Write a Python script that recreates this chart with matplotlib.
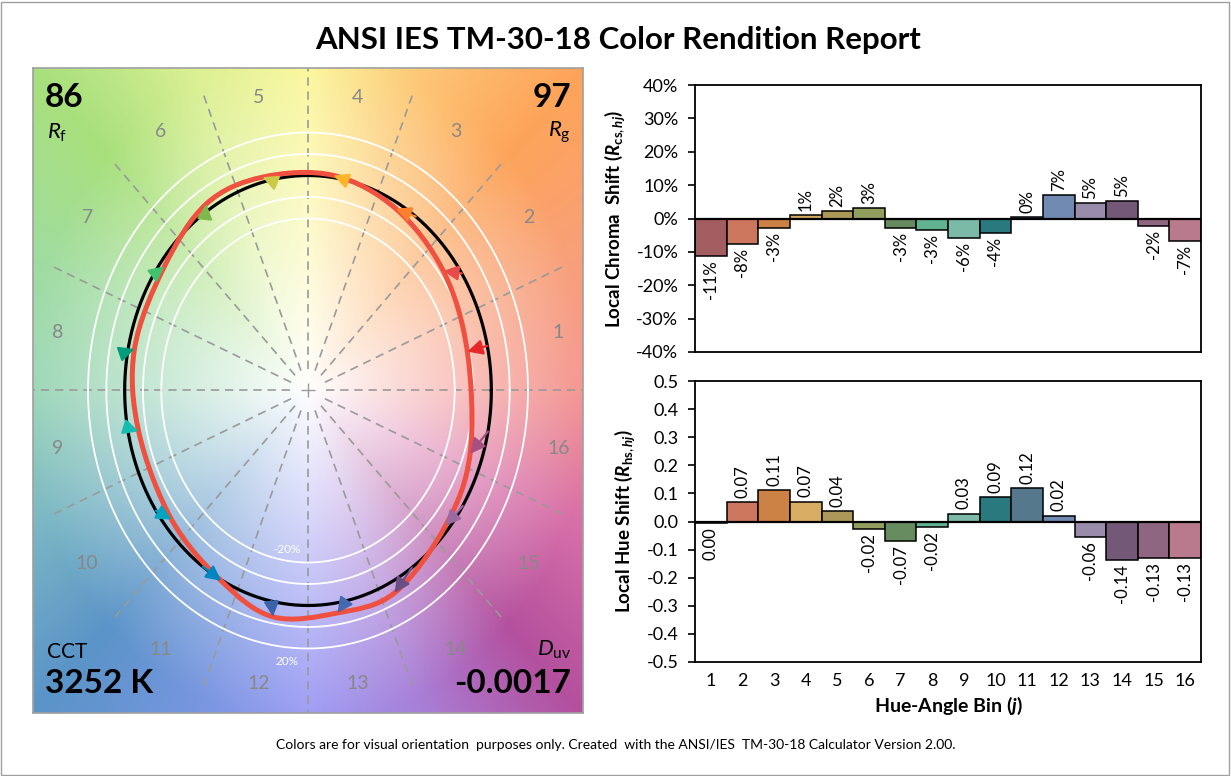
import numpy as np
import matplotlib
matplotlib.use('Agg')
import matplotlib.pyplot as plt
from matplotlib.ticker import FuncFormatter, MultipleLocator
from matplotlib.colors import to_rgb
from matplotlib.patches import Rectangle, PathPatch
from matplotlib.path import Path

plt.rcParams['font.family'] = ['Lato', 'DejaVu Sans']
plt.rcParams['axes.unicode_minus'] = False
plt.rcParams['mathtext.fontset'] = 'custom'
plt.rcParams['mathtext.rm'] = 'Lato'
plt.rcParams['mathtext.it'] = 'Lato:italic'
plt.rcParams['mathtext.bf'] = 'Lato:bold'
plt.rcParams['mathtext.bfit'] = 'Lato:bold:italic'

# --- data ---
bins = np.arange(1, 17)
chroma_shift = np.array([-11.2, -7.6, -2.8, 1.0, 2.3, 3.0, -2.7, -3.4,
                         -5.7, -4.4, 0.4, 7.0, 4.7, 5.3, -2.1, -6.8])      # %
hue_shift = np.array([-0.004, 0.070, 0.113, 0.071, 0.036, -0.025, -0.068, -0.018,
                      0.028, 0.086, 0.120, 0.021, -0.055, -0.137, -0.131, -0.130])  # rad
ref_hue_deg = np.array([12, 33, 54, 78, 102, 124, 147.5, 169.5,
                        190, 214, 235, 258.5, 282, 304.5, 327.5, 349])
rf, rg = 86, 97
cct, duv = 3252, -0.0017

bar_colors = ['#a35c60', '#cc765e', '#cc8145', '#d8ac62', '#ac9959', '#919e5d',
              '#668b5e', '#61b290', '#7bbaa6', '#297a7e', '#55788d', '#708ab2',
              '#988caa', '#735877', '#8f6682', '#ba7a8e']
arrow_colors = ['#e62828', '#e74b4b', '#fb812e', '#ffb529', '#cbca46', '#7eb94c',
                '#41c06d', '#009c7c', '#16bcb0', '#00a4bf', '#0085c3', '#3b62aa',
                '#4568ae', '#6a4e85', '#9d69a1', '#a74f81']
# background hue wheel, every 22.5 deg starting at 0 (right)
bg_colors = ['#f4948f', '#f8a07a', '#fda45a', '#fdc877', '#fbf79c', '#dcf094',
             '#a8e07c', '#a0dca0', '#9cd6b8', '#7cb8c4', '#5a94c8', '#7896e0',
             '#9c9cf4', '#a880d8', '#b4509e', '#d870a8']

fig = plt.figure(figsize=(12.31, 7.76), dpi=100)
fig.add_artist(Rectangle((0.001, 0.001), 0.997, 0.997, transform=fig.transFigure,
                         fill=False, ec='#a0a0a0', lw=1))

fig.text(0.502, 0.948, 'ANSI IES TM-30-18 Color Rendition Report', ha='center', va='center',
         fontsize=22.5, fontweight='bold')
fig.text(0.5, 0.040, 'Colors are for visual orientation  purposes only. Created  with the '
         'ANSI/IES  TM-30-18 Calculator Version 2.00.', ha='center', va='center', fontsize=10)

# --- color vector graphic ---
ax = fig.add_axes([33 / 1231, 63 / 776, 550 / 1231, 645 / 776])
n = 500
g = np.linspace(-1.5, 1.5, n)
X, Y = np.meshgrid(g, g)
ang = np.degrees(np.arctan2(Y, X)) % 360
rad = np.hypot(X, Y)
anchor_deg = np.arange(0, 361, 22.5)
anchor_rgb = np.array([to_rgb(c) for c in bg_colors + [bg_colors[0]]])
img = np.empty((n, n, 3))
for k in range(3):
    img[..., k] = np.interp(ang, anchor_deg, anchor_rgb[:, k])
t = np.clip(rad / 1.55, 0, 1)[..., None] ** 0.95
img = 1 - t * (1 - img)
ax.imshow(img, extent=(-1.5, 1.5, -1.5, 1.5), origin='lower', aspect='auto',
          interpolation='bilinear', zorder=0)

theta = np.linspace(0, 2 * np.pi, 361)
for r in [0.8, 0.9, 1.1, 1.2]:
    ax.plot(r * np.cos(theta), r * np.sin(theta), color='white', lw=1.3, zorder=2)
for k in range(16):
    a = np.radians(k * 22.5)
    ax.plot([0.1 * np.cos(a), 1.5 * np.cos(a)], [0.1 * np.sin(a), 1.5 * np.sin(a)],
            color='#9a9a9a', lw=1.2, ls=(0, (5, 3.5)), zorder=1)
ax.plot([0], [0], marker='+', ms=10, mew=1, color='#9a9a9a', zorder=1)
ax.plot(np.cos(theta), np.sin(theta), color='black', lw=2.3, zorder=3)

h_r = np.radians(ref_hue_deg)
h_t = h_r + hue_shift
r_t = 1 + chroma_shift / 100
xt, yt = r_t * np.cos(h_t), r_t * np.sin(h_t)
xr, yr = np.cos(h_r), np.sin(h_r)

# smoothed closed test gamut (Bezier segments through the 16 test points)
P = np.column_stack([xt, yt])
verts = [P[0]]
codes = [Path.MOVETO]
for i in range(16):
    p0, p1, p2, p3 = P[i - 1], P[i], P[(i + 1) % 16], P[(i + 2) % 16]
    verts += [p1 + (p2 - p0) / 6, p2 - (p3 - p1) / 6, p2]
    codes += [Path.CURVE4] * 3
ax.add_patch(PathPatch(Path(verts, codes), fill=False, ec='#f0503f', lw=3.6, zorder=4))

for j in range(16):
    ax.annotate('', xy=(xt[j], yt[j]), xytext=(xr[j], yr[j]), zorder=5,
                arrowprops=dict(arrowstyle='-|>,head_length=0.7,head_width=0.35',
                                color=arrow_colors[j], lw=1.6, shrinkA=0, shrinkB=0,
                                mutation_scale=13))

mid = np.radians((bins - 0.5) * 22.5)
for b, a in zip(bins, mid):
    rl = 1.38 + 0.08 * np.sin(2 * a) ** 2
    ax.text(rl * np.cos(a), rl * np.sin(a), str(b), ha='center', va='center',
            fontsize=14, color='#888888', zorder=2)
ax.text(-0.115, -0.74, '-20%', color='white', fontsize=8.5, ha='center', va='center', zorder=2)
ax.text(-0.115, -1.26, '20%', color='white', fontsize=8.5, ha='center', va='center', zorder=2)

ax.text(0.022, 0.977, f'{rf}', transform=ax.transAxes, fontsize=24, fontweight='bold',
        ha='left', va='top')
ax.text(0.025, 0.90, r'$R_\mathrm{f}$', transform=ax.transAxes, fontsize=16, ha='left', va='center')
ax.text(0.978, 0.977, f'{rg}', transform=ax.transAxes, fontsize=24, fontweight='bold',
        ha='right', va='top')
ax.text(0.978, 0.90, r'$R_\mathrm{g}$', transform=ax.transAxes, fontsize=16, ha='right', va='center')
ax.text(0.025, 0.095, 'CCT', transform=ax.transAxes, fontsize=15, ha='left', va='center')
ax.text(0.022, 0.045, f'{cct} K', transform=ax.transAxes, fontsize=24, fontweight='bold',
        ha='left', va='center')
ax.text(0.978, 0.098, r'$D_\mathrm{uv}$', transform=ax.transAxes, fontsize=16, ha='right', va='center')
ax.text(0.978, 0.045, f'{duv:.4f}', transform=ax.transAxes, fontsize=24, fontweight='bold',
        ha='right', va='center')

ax.set_xlim(-1.5, 1.5)
ax.set_ylim(-1.5, 1.5)
ax.set_xticks([])
ax.set_yticks([])
for s in ax.spines.values():
    s.set_color('#a0a0a0')
    s.set_linewidth(1.2)


def bar_panel(axb, vals, fmt, step, lim):
    axb.bar(bins, vals, width=1.0, color=bar_colors, edgecolor='black', linewidth=1.1, zorder=2)
    axb.axhline(0, color='black', lw=1.6, zorder=3)
    axb.set_xlim(0.5, 16.5)
    axb.set_ylim(-lim, lim)
    axb.yaxis.set_major_locator(MultipleLocator(step))
    axb.tick_params(axis='y', direction='out', length=5, width=1.2, pad=7, labelsize=13)
    for s in axb.spines.values():
        s.set_linewidth(1.3)
    for b, v in zip(bins, vals):
        axb.annotate(fmt(v), xy=(b, v), xytext=(0, 3 if v >= 0 else -3),
                     textcoords='offset points', rotation=90, ha='center',
                     va='bottom' if v >= 0 else 'top', fontsize=12)


ax1 = fig.add_axes([695 / 1231, 424 / 776, 506 / 1231, 267 / 776])
bar_panel(ax1, chroma_shift, lambda v: f'{v:.0f}%', 10, 40)
ax1.yaxis.set_major_formatter(FuncFormatter(lambda v, p: f'{v:.0f}%'))
ax1.set_xticks([])
ax1.set_ylabel(r'Local Chroma  Shift ($\mathbfit{R}_{\mathbf{cs},\mathbfit{hj}}$)',
               fontsize=13.5, fontweight='bold', labelpad=7)

ax2 = fig.add_axes([695 / 1231, 114 / 776, 506 / 1231, 281 / 776])
bar_panel(ax2, hue_shift, lambda v: f'{round(v, 2) + 0.0:.2f}', 0.1, 0.5)
ax2.yaxis.set_major_formatter(FuncFormatter(lambda v, p: f'{v:.1f}'))
ax2.set_xticks(bins)
ax2.tick_params(axis='x', length=0, pad=8, labelsize=13)
ax2.set_ylabel(r'Local Hue Shift ($\mathbfit{R}_{\mathbf{hs},\mathbfit{hj}}$)',
               fontsize=13.5, fontweight='bold', labelpad=7)
ax2.set_xlabel(r'Hue-Angle Bin ($\mathbfit{j}$)', fontsize=14, fontweight='bold', labelpad=4)

fig.savefig('out.png', dpi=100)
